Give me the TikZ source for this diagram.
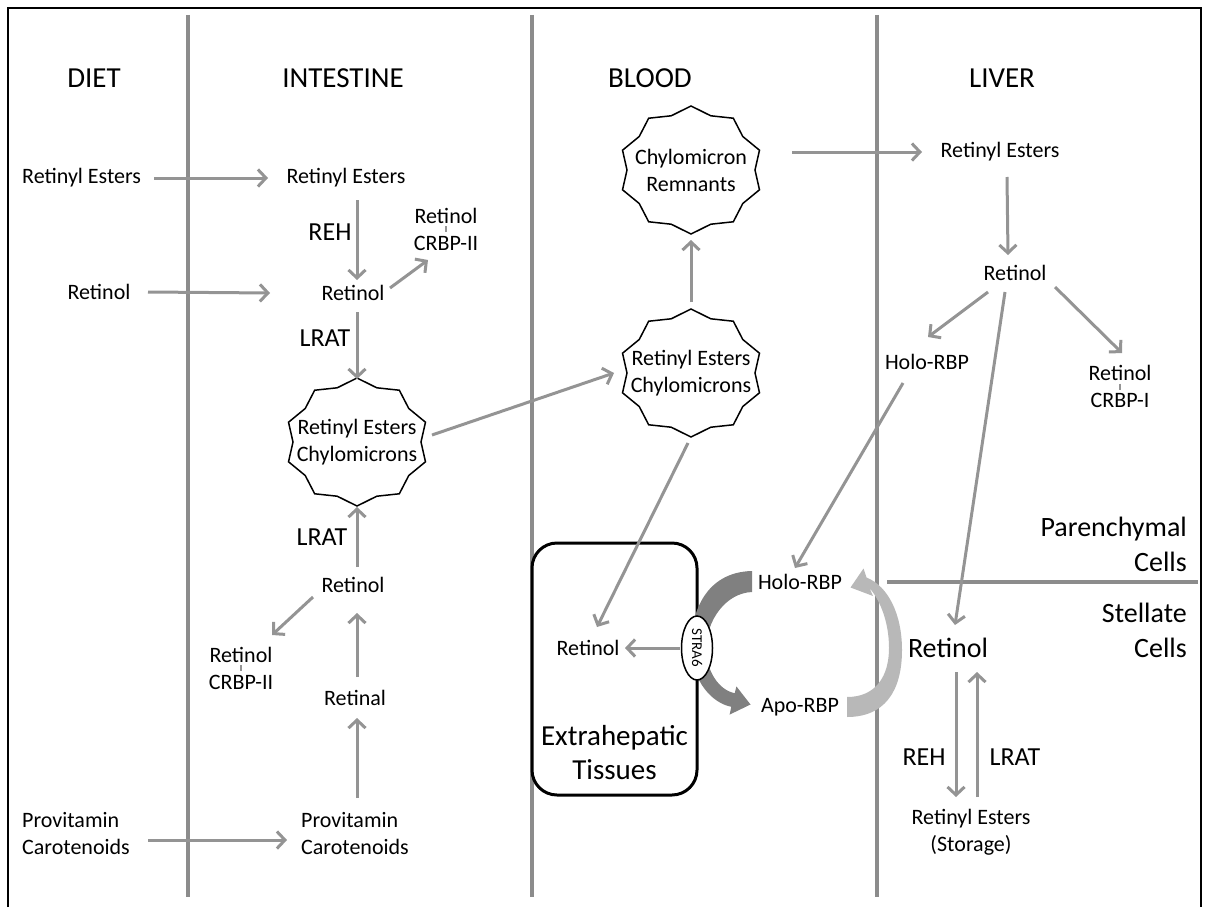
\documentclass[tikz,border=0pt]{standalone}
\usepackage{fontspec}
\setmainfont{Carlito}
\usetikzlibrary{arrows.meta,shapes.geometric,backgrounds}
\definecolor{arrgray}{gray}{0.58}
\definecolor{divgray}{gray}{0.55}
\definecolor{bandA}{gray}{0.50}
\definecolor{bandB}{gray}{0.72}
\newcommand\szA{\fontsize{22}{27}\selectfont}
\newcommand\szB{\fontsize{26}{31}\selectfont}
\newcommand\szC{\fontsize{28}{35}\selectfont}
\newcommand\szD{\fontsize{29}{34}\selectfont}
\newcommand\szE{\fontsize{15}{17}\selectfont}
\newcommand\burst[1]{\draw[burstline, shift={(#1.center)}] plot[samples at={0,...,19}, variable=\t] ({((mod(\t,2)==0) ? 72 : 64)*cos(90+18*\t)}, {((mod(\t,2)==0) ? 64 : 57)*sin(90+18*\t)}) -- cycle;}
\begin{document}
\begin{tikzpicture}[x=1pt,y=-1pt,
  lbl/.style={inner sep=0pt, font=\szA},
  enz/.style={inner sep=0pt, font=\szB},
  big/.style={inner sep=0pt, font=\szC},
  hdr/.style={inner sep=0pt, font=\szD},
  arr/.style={draw=arrgray, line width=3pt, -{Straight Barb[length=8pt,width=17pt]}},
  divider/.style={draw=divgray, line width=4.5pt},
  burstline/.style={draw=black, line width=1.5pt, fill=white, line join=miter},
  boxst/.style={draw=black, fill=white, line width=3pt, rounded corners=25pt, minimum width=165pt, minimum height=252pt, inner sep=0pt},
  strast/.style={ellipse, draw=black, fill=white, line width=1.5pt, inner sep=0pt, minimum width=64pt, minimum height=31pt, rotate=-90, font=\szE},
  tickst/.style={draw=arrgray, line width=1.5pt},
  bandAst/.style={fill=bandA},
  bandBst/.style={fill=bandB},
  frame/.style={draw=black, line width=2pt}
]
\useasboundingbox (0,0) rectangle (1209,907);

% headers
\node[hdr] (hDiet) at (94,78) {DIET};
\node[hdr] (hInt) at (343,78) {INTESTINE};
\node[hdr] (hBlood) at (650,78) {BLOOD};
\node[hdr] (hLiver) at (1002,78) {LIVER};

% diet / intestine
\node[lbl, anchor=west] (dRE) at (22,178) {Retinyl Esters};
\node[lbl] (iRE) at (346,178) {Retinyl Esters};
\node[lbl] (dRet) at (99,292) {Retinol};
\node[lbl] (iRetA) at (353,293) {Retinol};
\node[lbl, align=center] (crbpA) at (446,229) {Retinol\\CRBP-II};
\node[enz] (rehA) at (330,232) {REH};
\node[enz] (lratA) at (325,338) {LRAT};
\node[lbl, align=center] (s1) at (357,442) {Retinyl Esters\\Chylomicrons};
\node[enz] (lratB) at (322,537) {LRAT};
\node[lbl] (iRetB) at (353,585) {Retinol};
\node[lbl, align=center] (crbpB) at (241,668) {Retinol\\CRBP-II};
\node[lbl] (iRetal) at (355,698) {Retinal};
\node[lbl, align=left, anchor=west] (dProv) at (22,833.5) {Provitamin\\Carotenoids};
\node[lbl, align=left, anchor=west] (iProv) at (301,833.5) {Provitamin\\Carotenoids};

% blood
\node[lbl, align=center] (s2) at (691,373) {Retinyl Esters\\Chylomicrons};
\node[lbl, align=center] (s3) at (691,170) {Chylomicron\\Remnants};
\node[lbl] (eRet) at (588,648) {Retinol};
\node[hdr, align=center] (extra) at (614.5,753) {Extrahepatic\\Tissues};
\node[lbl] (bHolo) at (800,582) {Holo-RBP};
\node[lbl] (bApo) at (800,707) {Apo-RBP};

% liver
\node[lbl] (lRE) at (1000,152) {Retinyl Esters};
\node[lbl] (lRet) at (1015,273) {Retinol};
\node[lbl] (lHolo) at (927,362) {Holo-RBP};
\node[lbl, align=center] (crbpC) at (1120,386.5) {Retinol\\CRBP-I};
\node[big] (sRet) at (948,648) {Retinol};
\node[enz] (rehB) at (924,757) {REH};
\node[enz] (lratC) at (1015,757) {LRAT};
\node[lbl, align=center] (sRE) at (971,832.5) {Retinyl Esters\\(Storage)};
\node[big, align=right, anchor=east] (parL) at (1187,544.5) {Parenchymal\\Cells};
\node[big, align=right, anchor=east] (stelL) at (1187,630.5) {Stellate\\Cells};

\begin{scope}[on background layer]
  \draw[frame] (8,907) -- (8,8) -- (1201,8) -- (1201,907);
  \draw[divider] (188,15) -- (188,897);
  \draw[divider] (532,15) -- (532,897);
  \draw[divider] (877,15) -- (877,897);
  \draw[divider, line width=4pt] (887,582) -- (1198,582);
  \node[boxst] (box) at (614.5,669) {};
  \burst{s1}
  \burst{s2}
  \burst{s3}
\end{scope}

% ticks between bound retinol and CRBP
\draw[tickst] ([shift={(0,-3)}]crbpA.center) -- ([shift={(0,3)}]crbpA.center);
\draw[tickst] ([shift={(0,-3)}]crbpB.center) -- ([shift={(0,3)}]crbpB.center);
\draw[tickst] ([shift={(0,-3)}]crbpC.center) -- ([shift={(0,3)}]crbpC.center);

% arrows
\draw[arr] ([shift={(13,0)}]dRE.east) -- ([shift={(-78,0)}]iRE.center);
\draw[arr] ([shift={(49,0)}]dRet.center) -- ([shift={(-83,0)}]iRetA.center);
\draw[arr] ([shift={(18,6.5)}]dProv.east) -- ([shift={(-14,6.5)}]iProv.west);
\draw[arr] ([shift={(11,22)}]iRE.center) -- ([shift={(4,-13)}]iRetA.center);
\draw[arr] ([shift={(37,-5)}]iRetA.center) -- ([shift={(-18,31)}]crbpA.center);
\draw[arr] ([shift={(4,19)}]iRetA.center) -- ([shift={(0,-63)}]s1.center);
\draw[arr] ([shift={(75,-7)}]s1.center) -- ([shift={(-77,0)}]s2.center);
\draw[arr] ([shift={(0,-71)}]s2.center) -- ([shift={(0,70)}]s3.center);
\draw[arr] ([shift={(101,-18)}]s3.center) -- ([shift={(-78,0)}]lRE.center);
\draw[arr] ([shift={(7,25)}]lRE.center) -- ([shift={(-7,-18)}]lRet.center);
\draw[arr] ([shift={(-27,19)}]lRet.center) -- ([shift={(1,-25)}]lHolo.center);
\draw[arr] ([shift={(40,14)}]lRet.center) -- ([shift={(2,-33.5)}]crbpC.center);
\draw[arr] ([shift={(-10,19)}]lRet.center) -- ([shift={(7,-23)}]sRet.center);
\draw[arr] ([shift={(-24,21)}]lHolo.center) -- ([shift={(-5,-14)}]bHolo.center);
\draw[arr] ([shift={(-3,70)}]s2.center) -- ([shift={(9,-21)}]eRet.center);
\draw[arr] ([shift={(4,-18)}]iRetB.center) -- ([shift={(0,65)}]s1.center);
\draw[arr] ([shift={(-40,12)}]iRetB.center) -- ([shift={(31,-33)}]crbpB.center);
\draw[arr] ([shift={(2,-21)}]iRetal.center) -- ([shift={(4,28)}]iRetB.center);
\draw[arr] ([shift={(56,-35.5)}]iProv.west) -- ([shift={(2,20)}]iRetal.center);
\draw[arr] ([shift={(8,24)}]sRet.center) -- ([shift={(-15,-35.5)}]sRE.center);
\draw[arr] ([shift={(6,-35.5)}]sRE.center) -- ([shift={(29,24)}]sRet.center);

% RBP cycle: tapered curved arrows
\begin{scope}[shift={(bHolo.center)}, shift={(-800,-582)}]
  % Holo-RBP -> STRA6 -> Apo-RBP (dark)
  \fill[bandAst] (752,571) .. controls (706,572) and (690,612) .. (691,650)
    .. controls (693,682) and (712,703) .. (731.3,706.8)
    -- (729.6,714.6) -- (750.5,704.5) -- (736.4,686.4) -- (734.7,693.2)
    .. controls (719,690) and (707,672) .. (706,650)
    .. controls (706,620) and (726,593) .. (752,592) -- cycle;
  % Apo-RBP -> Holo-RBP (light)
  \fill[bandBst] (847,697) .. controls (876,697) and (889,676) .. (889,648)
    .. controls (889,622) and (880,600) .. (869.5,588)
    -- (873,596) -- (850.5,587.5) -- (863.5,568.5) -- (866.5,577.5)
    .. controls (888,586) and (902,614) .. (902,650)
    .. controls (902,692) and (884,717) .. (847,717) -- cycle;
\end{scope}
\node[strast] (stra) at (697,648) {STRA6};
\draw[arr] ([shift={(-17,0)}]stra.center) -- ([shift={(37,0)}]eRet.center);
\end{tikzpicture}
\end{document}
